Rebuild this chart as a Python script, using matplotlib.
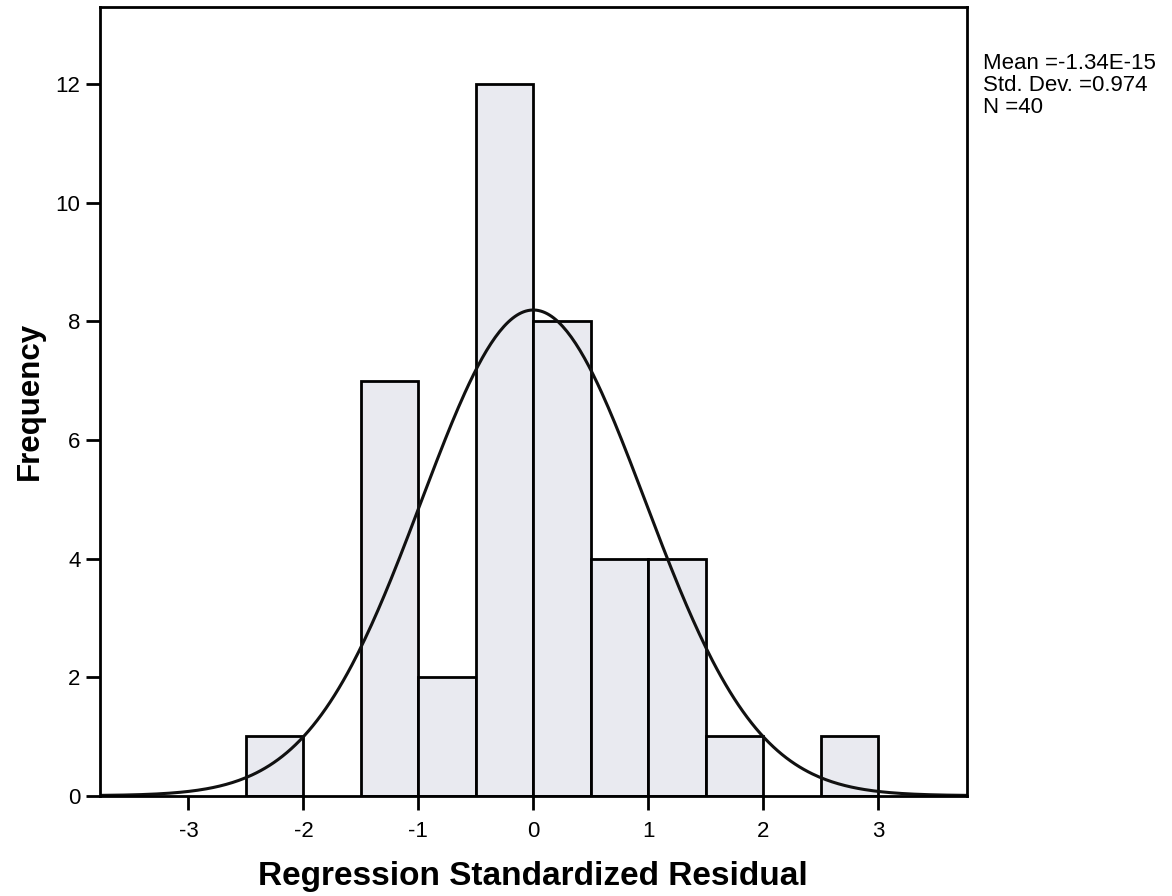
import matplotlib.pyplot as plt
import numpy as np

# histogram bins (width 0.5) and counts
bin_edges = [-2.5, -2.0, -1.5, -1.0, -0.5, 0.0, 0.5, 1.0, 1.5, 2.0, 2.5, 3.0]
counts = [1, 0, 7, 2, 12, 8, 4, 4, 1, 0, 1]

mean = -1.34e-15
std = 0.974
n = 40
x_ticks = [-3, -2, -1, 0, 1, 2, 3]
y_ticks = [0, 2, 4, 6, 8, 10, 12]
stats_lines = ['Mean =-1.34E-15', 'Std. Dev. =0.974', 'N =40']

plt.rcParams['font.family'] = ['Liberation Sans', 'DejaVu Sans']
plt.rcParams['axes.unicode_minus'] = False

fig = plt.figure(figsize=(11.72, 8.96), dpi=100)
ax = fig.add_axes([0.0853, 0.112, 0.7395, 0.880])

lefts = bin_edges[:-1]
widths = np.diff(bin_edges)
for left, w, c in zip(lefts, widths, counts):
    if c > 0:
        ax.bar(left, c, width=w, align='edge', color='#e9eaf0',
               edgecolor='black', linewidth=2)

# normal curve scaled to the histogram
binw = bin_edges[1] - bin_edges[0]
xs = np.linspace(-3.77, 3.77, 400)
ys = n * binw * np.exp(-0.5 * ((xs - mean) / std) ** 2) / (std * np.sqrt(2 * np.pi))
ax.plot(xs, ys, color='#111111', linewidth=2.2)

ax.set_xlim(-3.77, 3.77)
ax.set_ylim(0, 13.3)
ax.set_xticks(x_ticks)
ax.set_yticks(y_ticks)
ax.tick_params(direction='out', length=10, width=2, labelsize=16)
ax.tick_params(axis='x', pad=8)
ax.tick_params(axis='y', pad=4)
for s in ax.spines.values():
    s.set_linewidth(2)

ax.set_xlabel('Regression Standardized Residual', fontsize=24, fontweight='bold', labelpad=14)
ax.set_ylabel('Frequency', fontsize=22.5, fontweight='bold', labelpad=8)

# stats box text, one line per baseline
for i, line in enumerate(stats_lines):
    fig.text(0.839, 0.923 - i * 0.0248, line, fontsize=16, va='baseline', ha='left')

fig.savefig('out.png', dpi=100)
